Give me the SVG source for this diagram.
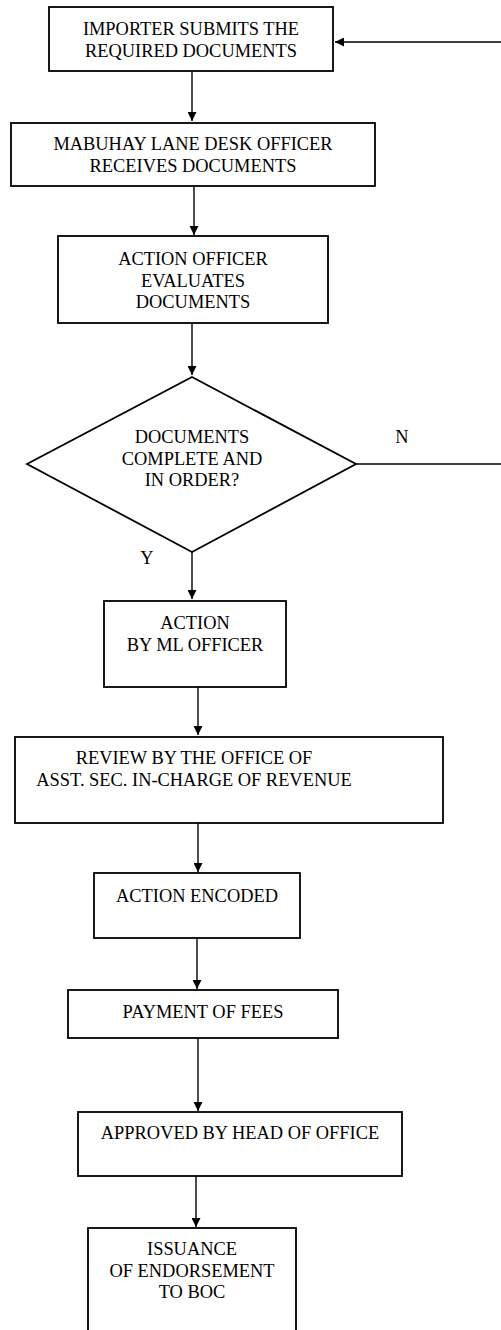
<svg xmlns="http://www.w3.org/2000/svg" width="501" height="1330" viewBox="0 0 501 1330">
  <style>
    .box { fill: #ffffff; stroke: #000000; stroke-width: 1.8; }
    .lbl { font-family: "Liberation Serif", "Times New Roman", serif; font-size: 18.4px; fill: #000000; text-anchor: middle; }
    .wire { fill: none; stroke: #000000; stroke-width: 1.4; }
  </style>
  <defs>
    <marker id="arrow" viewBox="0 0 10 10" refX="10" refY="5" markerWidth="10" markerHeight="9" markerUnits="userSpaceOnUse" orient="auto">
      <path d="M0,0 L10,5 L0,10 Z" fill="#000000"/>
    </marker>
  </defs>
  <rect width="501" height="1330" fill="#ffffff"/>

  <g id="connectors">
    <path class="wire" d="M501,42 L335,42" marker-end="url(#arrow)"/>
    <path class="wire" d="M192,72 L192,121" marker-end="url(#arrow)"/>
    <path class="wire" d="M194,187 L194,235" marker-end="url(#arrow)"/>
    <path class="wire" d="M192,323 L192,375" marker-end="url(#arrow)"/>
    <path class="wire" d="M356,464 L501,464"/>
    <path class="wire" d="M192,552 L192,599" marker-end="url(#arrow)"/>
    <path class="wire" d="M198,687 L198,735" marker-end="url(#arrow)"/>
    <path class="wire" d="M198,823 L198,872" marker-end="url(#arrow)"/>
    <path class="wire" d="M197,938 L197,989" marker-end="url(#arrow)"/>
    <path class="wire" d="M198,1038 L198,1111" marker-end="url(#arrow)"/>
    <path class="wire" d="M196,1176 L196,1227" marker-end="url(#arrow)"/>
  </g>

  <g id="submit">
    <rect class="box" x="49" y="7" width="284" height="64"/>
    <text class="lbl" x="191" y="35">IMPORTER SUBMITS THE</text>
    <text class="lbl" x="191" y="57">REQUIRED DOCUMENTS</text>
  </g>

  <g id="receive">
    <rect class="box" x="11" y="123" width="364" height="63"/>
    <text class="lbl" x="193" y="150">MABUHAY LANE DESK OFFICER</text>
    <text class="lbl" x="193" y="172">RECEIVES DOCUMENTS</text>
  </g>

  <g id="evaluate">
    <rect class="box" x="58" y="236" width="270" height="87"/>
    <text class="lbl" x="193" y="265">ACTION OFFICER</text>
    <text class="lbl" x="193" y="287">EVALUATES</text>
    <text class="lbl" x="193" y="308">DOCUMENTS</text>
  </g>

  <g id="decision">
    <polygon class="box" points="192,377 356,464 192,552 27,464"/>
    <text class="lbl" x="192" y="443">DOCUMENTS</text>
    <text class="lbl" x="192" y="465">COMPLETE AND</text>
    <text class="lbl" x="192" y="486">IN ORDER?</text>
    <text class="lbl" x="402" y="443">N</text>
    <text class="lbl" x="147" y="564">Y</text>
  </g>

  <g id="ml-action">
    <rect class="box" x="104" y="601" width="182" height="86"/>
    <text class="lbl" x="195" y="629">ACTION</text>
    <text class="lbl" x="195" y="651">BY ML OFFICER</text>
  </g>

  <g id="review">
    <rect class="box" x="15" y="737" width="428" height="86"/>
    <text class="lbl" x="194" y="764">REVIEW BY THE OFFICE OF</text>
    <text class="lbl" x="194" y="786">ASST. SEC. IN-CHARGE OF REVENUE</text>
  </g>

  <g id="encoded">
    <rect class="box" x="94" y="873" width="206" height="65"/>
    <text class="lbl" x="197" y="902">ACTION ENCODED</text>
  </g>

  <g id="payment">
    <rect class="box" x="68" y="990" width="270" height="48"/>
    <text class="lbl" x="203" y="1018">PAYMENT OF FEES</text>
  </g>

  <g id="approved">
    <rect class="box" x="78" y="1112" width="324" height="64"/>
    <text class="lbl" x="240" y="1139">APPROVED BY HEAD OF OFFICE</text>
  </g>

  <g id="issuance">
    <rect class="box" x="88" y="1228" width="208" height="130"/>
    <text class="lbl" x="192" y="1255">ISSUANCE</text>
    <text class="lbl" x="192" y="1277">OF ENDORSEMENT</text>
    <text class="lbl" x="192" y="1298">TO BOC</text>
  </g>
</svg>
